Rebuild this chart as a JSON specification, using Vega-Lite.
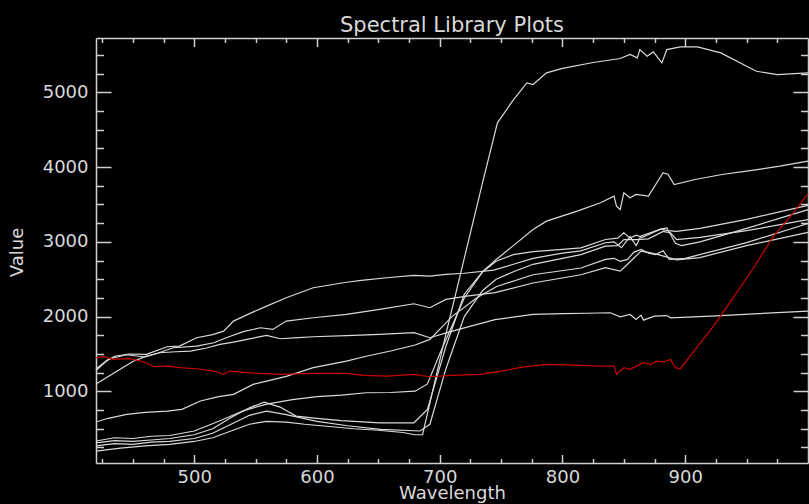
{
 "$schema": "https://vega.github.io/schema/vega-lite/v6.json",
 "width": 712, "height": 425,
 "autosize": {"type": "none"},
 "padding": {"left": 96, "top": 38, "right": 1, "bottom": 41},
 "background": "#000000",
 "title": {"text": "Spectral Library Plots", "font": "DejaVu Sans", "fontSize": 21, "fontWeight": "normal", "color": "#d8d8d8", "anchor": "middle", "offset": -16, "baseline": "alphabetic"},
 "config": {
  "view": {"stroke": null},
  "axis": {"domainColor": "#cfcfcf", "domainWidth": 1.5, "tickColor": "#cfcfcf", "tickWidth": 1.5, "labelColor": "#d8d8d8", "labelFont": "DejaVu Sans", "labelFontSize": 18, "titleColor": "#d8d8d8", "titleFont": "DejaVu Sans", "titleFontSize": 18, "titleFontWeight": "normal", "grid": false, "labelOverlap": false, "labelFlush": false}
 },
 "datasets": {"spectra": [
  {"s":"s1","w":420,"v":200},{"s":"s1","w":440,"v":240},{"s":"s1","w":460,"v":270},{"s":"s1","w":480,"v":290},{"s":"s1","w":500,"v":330},{"s":"s1","w":515,"v":380},{"s":"s1","w":530,"v":470},{"s":"s1","w":545,"v":560},{"s":"s1","w":559,"v":600},{"s":"s1","w":575,"v":590},{"s":"s1","w":590,"v":560},{"s":"s1","w":610,"v":530},{"s":"s1","w":630,"v":500},{"s":"s1","w":650,"v":480},{"s":"s1","w":670,"v":450},{"s":"s1","w":680,"v":420},{"s":"s1","w":686,"v":420},{"s":"s1","w":704,"v":1695},{"s":"s1","w":720,"v":2780},{"s":"s1","w":735,"v":3800},{"s":"s1","w":747,"v":4592},{"s":"s1","w":760,"v":4900},{"s":"s1","w":771,"v":5127},{"s":"s1","w":776,"v":5104},{"s":"s1","w":787,"v":5261},{"s":"s1","w":800,"v":5320},{"s":"s1","w":825,"v":5399},{"s":"s1","w":847,"v":5453},{"s":"s1","w":855,"v":5506},{"s":"s1","w":861,"v":5462},{"s":"s1","w":863,"v":5572},{"s":"s1","w":869,"v":5483},{"s":"s1","w":874,"v":5541},{"s":"s1","w":881,"v":5394},{"s":"s1","w":885,"v":5572},{"s":"s1","w":896,"v":5608},{"s":"s1","w":910,"v":5608},{"s":"s1","w":929,"v":5528},{"s":"s1","w":950,"v":5349},{"s":"s1","w":958,"v":5282},{"s":"s1","w":975,"v":5237},{"s":"s1","w":1000,"v":5260},
  {"s":"s2","w":420,"v":310},{"s":"s2","w":435,"v":340},{"s":"s2","w":450,"v":330},{"s":"s2","w":465,"v":350},{"s":"s2","w":480,"v":370},{"s":"s2","w":500,"v":420},{"s":"s2","w":515,"v":500},{"s":"s2","w":530,"v":650},{"s":"s2","w":545,"v":780},{"s":"s2","w":557,"v":857},{"s":"s2","w":570,"v":790},{"s":"s2","w":583,"v":670},{"s":"s2","w":600,"v":640},{"s":"s2","w":620,"v":610},{"s":"s2","w":651,"v":580},{"s":"s2","w":679,"v":580},{"s":"s2","w":690,"v":760},{"s":"s2","w":705,"v":1600},{"s":"s2","w":720,"v":2300},{"s":"s2","w":735,"v":2600},{"s":"s2","w":745,"v":2750},{"s":"s2","w":760,"v":2950},{"s":"s2","w":776,"v":3166},{"s":"s2","w":787,"v":3277},{"s":"s2","w":812,"v":3411},{"s":"s2","w":831,"v":3523},{"s":"s2","w":842,"v":3611},{"s":"s2","w":844,"v":3477},{"s":"s2","w":847,"v":3433},{"s":"s2","w":850,"v":3656},{"s":"s2","w":855,"v":3590},{"s":"s2","w":860,"v":3634},{"s":"s2","w":870,"v":3611},{"s":"s2","w":882,"v":3924},{"s":"s2","w":886,"v":3901},{"s":"s2","w":891,"v":3767},{"s":"s2","w":908,"v":3834},{"s":"s2","w":930,"v":3901},{"s":"s2","w":950,"v":3945},{"s":"s2","w":977,"v":4012},{"s":"s2","w":1000,"v":4079},
  {"s":"s3","w":420,"v":270},{"s":"s3","w":435,"v":300},{"s":"s3","w":450,"v":290},{"s":"s3","w":465,"v":320},{"s":"s3","w":480,"v":330},{"s":"s3","w":500,"v":370},{"s":"s3","w":515,"v":440},{"s":"s3","w":530,"v":560},{"s":"s3","w":545,"v":680},{"s":"s3","w":559,"v":737},{"s":"s3","w":575,"v":690},{"s":"s3","w":600,"v":600},{"s":"s3","w":625,"v":540},{"s":"s3","w":652,"v":492},{"s":"s3","w":684,"v":470},{"s":"s3","w":692,"v":560},{"s":"s3","w":705,"v":1300},{"s":"s3","w":720,"v":2000},{"s":"s3","w":735,"v":2350},{"s":"s3","w":746,"v":2500},{"s":"s3","w":760,"v":2600},{"s":"s3","w":776,"v":2700},{"s":"s3","w":800,"v":2780},{"s":"s3","w":815,"v":2830},{"s":"s3","w":835,"v":2943},{"s":"s3","w":845,"v":2950},{"s":"s3","w":850,"v":3030},{"s":"s3","w":860,"v":3030},{"s":"s3","w":870,"v":3040},{"s":"s3","w":882,"v":3140},{"s":"s3","w":888,"v":3120},{"s":"s3","w":893,"v":3030},{"s":"s3","w":912,"v":3060},{"s":"s3","w":950,"v":3150},{"s":"s3","w":1000,"v":3298},
  {"s":"s4","w":420,"v":336},{"s":"s4","w":435,"v":380},{"s":"s4","w":450,"v":370},{"s":"s4","w":465,"v":400},{"s":"s4","w":480,"v":410},{"s":"s4","w":500,"v":470},{"s":"s4","w":520,"v":600},{"s":"s4","w":540,"v":740},{"s":"s4","w":559,"v":830},{"s":"s4","w":580,"v":890},{"s":"s4","w":600,"v":930},{"s":"s4","w":620,"v":950},{"s":"s4","w":640,"v":982},{"s":"s4","w":660,"v":985},{"s":"s4","w":680,"v":1003},{"s":"s4","w":690,"v":1100},{"s":"s4","w":700,"v":1500},{"s":"s4","w":720,"v":2250},{"s":"s4","w":735,"v":2600},{"s":"s4","w":746,"v":2740},{"s":"s4","w":760,"v":2830},{"s":"s4","w":776,"v":2870},{"s":"s4","w":800,"v":2900},{"s":"s4","w":815,"v":2920},{"s":"s4","w":835,"v":3032},{"s":"s4","w":845,"v":3050},{"s":"s4","w":850,"v":3120},{"s":"s4","w":855,"v":3050},{"s":"s4","w":860,"v":3090},{"s":"s4","w":865,"v":3060},{"s":"s4","w":880,"v":3170},{"s":"s4","w":886,"v":3150},{"s":"s4","w":893,"v":3140},{"s":"s4","w":912,"v":3180},{"s":"s4","w":950,"v":3300},{"s":"s4","w":1000,"v":3489},
  {"s":"s5","w":420,"v":590},{"s":"s5","w":430,"v":640},{"s":"s5","w":445,"v":692},{"s":"s5","w":460,"v":720},{"s":"s5","w":478,"v":737},{"s":"s5","w":490,"v":760},{"s":"s5","w":505,"v":871},{"s":"s5","w":520,"v":930},{"s":"s5","w":532,"v":960},{"s":"s5","w":548,"v":1094},{"s":"s5","w":559,"v":1138},{"s":"s5","w":575,"v":1200},{"s":"s5","w":597,"v":1317},{"s":"s5","w":624,"v":1405},{"s":"s5","w":640,"v":1470},{"s":"s5","w":660,"v":1540},{"s":"s5","w":680,"v":1620},{"s":"s5","w":692,"v":1695},{"s":"s5","w":710,"v":2000},{"s":"s5","w":730,"v":2250},{"s":"s5","w":746,"v":2400},{"s":"s5","w":776,"v":2560},{"s":"s5","w":815,"v":2650},{"s":"s5","w":835,"v":2765},{"s":"s5","w":842,"v":2780},{"s":"s5","w":847,"v":2740},{"s":"s5","w":853,"v":2765},{"s":"s5","w":858,"v":2860},{"s":"s5","w":864,"v":2900},{"s":"s5","w":870,"v":2850},{"s":"s5","w":876,"v":2830},{"s":"s5","w":882,"v":2880},{"s":"s5","w":887,"v":2765},{"s":"s5","w":900,"v":2780},{"s":"s5","w":950,"v":2990},{"s":"s5","w":1000,"v":3245},
  {"s":"s6","w":420,"v":1280},{"s":"s6","w":428,"v":1400},{"s":"s6","w":435,"v":1470},{"s":"s6","w":447,"v":1500},{"s":"s6","w":461,"v":1495},{"s":"s6","w":478,"v":1597},{"s":"s6","w":488,"v":1606},{"s":"s6","w":502,"v":1718},{"s":"s6","w":515,"v":1760},{"s":"s6","w":524,"v":1806},{"s":"s6","w":532,"v":1940},{"s":"s6","w":545,"v":2040},{"s":"s6","w":559,"v":2141},{"s":"s6","w":575,"v":2253},{"s":"s6","w":597,"v":2386},{"s":"s6","w":624,"v":2460},{"s":"s6","w":638,"v":2488},{"s":"s6","w":657,"v":2520},{"s":"s6","w":679,"v":2551},{"s":"s6","w":692,"v":2541},{"s":"s6","w":705,"v":2564},{"s":"s6","w":720,"v":2580},{"s":"s6","w":744,"v":2622},{"s":"s6","w":760,"v":2700},{"s":"s6","w":776,"v":2780},{"s":"s6","w":800,"v":2850},{"s":"s6","w":815,"v":2880},{"s":"s6","w":835,"v":2988},{"s":"s6","w":842,"v":3000},{"s":"s6","w":848,"v":2921},{"s":"s6","w":855,"v":3070},{"s":"s6","w":860,"v":2950},{"s":"s6","w":864,"v":3080},{"s":"s6","w":880,"v":3170},{"s":"s6","w":885,"v":3188},{"s":"s6","w":892,"v":2980},{"s":"s6","w":897,"v":2950},{"s":"s6","w":912,"v":3000},{"s":"s6","w":950,"v":3180},{"s":"s6","w":1000,"v":3432},
  {"s":"s7","w":420,"v":1300},{"s":"s7","w":430,"v":1430},{"s":"s7","w":445,"v":1490},{"s":"s7","w":460,"v":1460},{"s":"s7","w":470,"v":1510},{"s":"s7","w":483,"v":1584},{"s":"s7","w":502,"v":1606},{"s":"s7","w":516,"v":1651},{"s":"s7","w":526,"v":1718},{"s":"s7","w":540,"v":1800},{"s":"s7","w":554,"v":1851},{"s":"s7","w":564,"v":1829},{"s":"s7","w":575,"v":1940},{"s":"s7","w":597,"v":1985},{"s":"s7","w":624,"v":2029},{"s":"s7","w":651,"v":2096},{"s":"s7","w":679,"v":2172},{"s":"s7","w":692,"v":2119},{"s":"s7","w":705,"v":2230},{"s":"s7","w":722,"v":2274},{"s":"s7","w":745,"v":2320},{"s":"s7","w":776,"v":2450},{"s":"s7","w":815,"v":2560},{"s":"s7","w":835,"v":2654},{"s":"s7","w":847,"v":2609},{"s":"s7","w":853,"v":2700},{"s":"s7","w":864,"v":2877},{"s":"s7","w":870,"v":2860},{"s":"s7","w":878,"v":2830},{"s":"s7","w":893,"v":2760},{"s":"s7","w":912,"v":2790},{"s":"s7","w":950,"v":2950},{"s":"s7","w":1000,"v":3128},
  {"s":"s8","w":420,"v":1100},{"s":"s8","w":430,"v":1200},{"s":"s8","w":440,"v":1300},{"s":"s8","w":450,"v":1400},{"s":"s8","w":461,"v":1472},{"s":"s8","w":472,"v":1517},{"s":"s8","w":485,"v":1530},{"s":"s8","w":497,"v":1539},{"s":"s8","w":510,"v":1580},{"s":"s8","w":521,"v":1628},{"s":"s8","w":532,"v":1660},{"s":"s8","w":543,"v":1695},{"s":"s8","w":559,"v":1749},{"s":"s8","w":570,"v":1704},{"s":"s8","w":585,"v":1720},{"s":"s8","w":597,"v":1731},{"s":"s8","w":624,"v":1745},{"s":"s8","w":651,"v":1762},{"s":"s8","w":679,"v":1785},{"s":"s8","w":692,"v":1718},{"s":"s8","w":706,"v":1785},{"s":"s8","w":720,"v":1850},{"s":"s8","w":745,"v":1960},{"s":"s8","w":776,"v":2029},{"s":"s8","w":800,"v":2040},{"s":"s8","w":820,"v":2045},{"s":"s8","w":839,"v":2052},{"s":"s8","w":847,"v":1997},{"s":"s8","w":855,"v":2029},{"s":"s8","w":860,"v":1962},{"s":"s8","w":864,"v":2020},{"s":"s8","w":866,"v":1953},{"s":"s8","w":875,"v":2006},{"s":"s8","w":885,"v":2014},{"s":"s8","w":888,"v":1984},{"s":"s8","w":921,"v":2006},{"s":"s8","w":960,"v":2040},{"s":"s8","w":1000,"v":2074},
  {"s":"red","w":420,"v":1450},{"s":"red","w":427,"v":1465},{"s":"red","w":434,"v":1428},{"s":"red","w":448,"v":1437},{"s":"red","w":461,"v":1383},{"s":"red","w":467,"v":1330},{"s":"red","w":478,"v":1338},{"s":"red","w":488,"v":1317},{"s":"red","w":502,"v":1303},{"s":"red","w":516,"v":1272},{"s":"red","w":524,"v":1227},{"s":"red","w":529,"v":1272},{"s":"red","w":543,"v":1250},{"s":"red","w":570,"v":1227},{"s":"red","w":597,"v":1241},{"s":"red","w":624,"v":1241},{"s":"red","w":638,"v":1214},{"s":"red","w":657,"v":1205},{"s":"red","w":679,"v":1227},{"s":"red","w":692,"v":1196},{"s":"red","w":710,"v":1215},{"s":"red","w":733,"v":1227},{"s":"red","w":750,"v":1270},{"s":"red","w":766,"v":1320},{"s":"red","w":786,"v":1360},{"s":"red","w":810,"v":1350},{"s":"red","w":831,"v":1338},{"s":"red","w":842,"v":1338},{"s":"red","w":844,"v":1227},{"s":"red","w":850,"v":1317},{"s":"red","w":855,"v":1294},{"s":"red","w":866,"v":1384},{"s":"red","w":872,"v":1361},{"s":"red","w":877,"v":1405},{"s":"red","w":882,"v":1392},{"s":"red","w":888,"v":1428},{"s":"red","w":892,"v":1317},{"s":"red","w":896,"v":1303},{"s":"red","w":904,"v":1472},{"s":"red","w":923,"v":1873},{"s":"red","w":940,"v":2274},{"s":"red","w":953,"v":2587},{"s":"red","w":972,"v":3076},{"s":"red","w":988,"v":3389},{"s":"red","w":1000,"v":3645}
 ]},
 "layer": [
  {
   "data": {"name": "spectra"},
   "transform": [{"filter": "datum.s !== 'red'"}],
   "mark": {"type": "line", "color": "#d9d9d9", "strokeWidth": 1.2},
   "encoding": {
    "x": {"field": "w", "type": "quantitative", "scale": {"domain": [420, 1000], "nice": false, "zero": false},
     "axis": {"orient": "bottom", "values": [425,450,475,500,525,550,575,600,625,650,675,700,725,750,775,800,825,850,875,900,925,950,975],
      "tickSize": {"condition": {"test": "datum.value % 100 === 0", "value": -8.5}, "value": -4.5},
      "labelExpr": "datum.value % 100 === 0 ? format(datum.value, 'd') : ''",
      "labelPadding": 14, "title": "Wavelength", "titleX": 356, "titleY": 35, "titleBaseline": "alphabetic"}},
    "y": {"field": "v", "type": "quantitative", "scale": {"domain": [42, 5727], "nice": false, "zero": false},
     "axis": {"orient": "left", "values": [250,500,750,1000,1250,1500,1750,2000,2250,2500,2750,3000,3250,3500,3750,4000,4250,4500,4750,5000,5250,5500],
      "tickSize": {"condition": {"test": "datum.value % 1000 === 0", "value": -15}, "value": -7.5},
      "labelExpr": "datum.value % 1000 === 0 ? format(datum.value, 'd') : ''",
      "labelPadding": 23, "title": "Value", "titleX": -74, "titleY": 214, "titleAngle": -90, "titleBaseline": "alphabetic"}},
    "detail": {"field": "s"}
   }
  },
  {
   "data": {"name": "spectra"},
   "transform": [{"filter": "datum.s === 'red'"}],
   "mark": {"type": "line", "color": "#cc0000", "strokeWidth": 1.2},
   "encoding": {
    "x": {"field": "w", "type": "quantitative", "scale": {"domain": [420, 1000], "nice": false, "zero": false},
     "axis": {"orient": "top", "values": [425,450,475,500,525,550,575,600,625,650,675,700,725,750,775,800,825,850,875,900,925,950,975],
      "tickSize": {"condition": {"test": "datum.value % 100 === 0", "value": -8.5}, "value": -4.5},
      "labels": false, "title": null}},
    "y": {"field": "v", "type": "quantitative", "scale": {"domain": [42, 5727], "nice": false, "zero": false},
     "axis": {"orient": "right", "values": [250,500,750,1000,1250,1500,1750,2000,2250,2500,2750,3000,3250,3500,3750,4000,4250,4500,4750,5000,5250,5500],
      "tickSize": {"condition": {"test": "datum.value % 1000 === 0", "value": -15}, "value": -7.5},
      "labels": false, "title": null}}
   }
  }
 ],
 "resolve": {"axis": {"x": "independent", "y": "independent"}}
}
